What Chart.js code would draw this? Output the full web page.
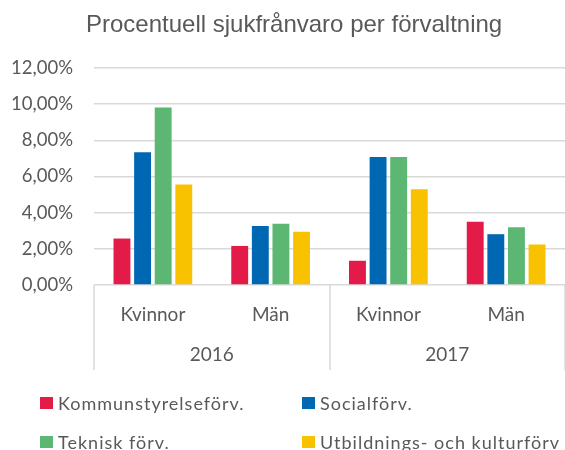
<!DOCTYPE html>
<html>
<head>
<meta charset="utf-8">
<script src="https://cdn.jsdelivr.net/npm/chart.js@4.4.0/dist/chart.umd.min.js"></script>
<style>
  body { margin: 0; background: #fff; }
  #wrap { position: relative; width: 565px; height: 450px; overflow: hidden; }
  #title { position: absolute; left: 86px; top: 10px; font: 24px "Liberation Sans", Arial, sans-serif; line-height: 27px; color: #595959; white-space: nowrap; }
  #legend { position: absolute; left: 0; top: 0; width: 565px; height: 450px; pointer-events: none; }
  .item { position: absolute; font: 18px Lato, sans-serif; line-height: 21px; letter-spacing: 1px; color: #595959; white-space: nowrap; padding-left: 18px; }
  .item span.box { position: absolute; left: 0; top: 4px; width: 13px; height: 12px; }
</style>
</head>
<body>
<div id="wrap">
  <canvas id="myChart" width="565" height="450"></canvas>
  <div id="title">Procentuell sjukfrånvaro per förvaltning</div>
  <div id="legend"></div>
</div>
<script>
const groupLabels = ['Kvinnor', 'Män', 'Kvinnor', 'Män']
const years = ['2016', '2017']
const seriesNames = ['Kommunstyrelseförv.', 'Socialförv.', 'Teknisk förv.', 'Utbildnings- och kulturförv']
const seriesColors = ['#E31B48', '#0068B2', '#5CB773', '#F9C200']
const kommunstyrelse = [2.57, 2.16, 1.34, 3.50]
const social = [7.34, 3.26, 7.08, 2.81]
const teknisk = [9.81, 3.39, 7.08, 3.19]
const utbildning = [5.56, 2.94, 5.30, 2.24]

const seriesValues = [kommunstyrelse, social, teknisk, utbildning]
const textColor = '#595959'

// year row under the category labels, with separators
const yearAxis = {
    id: 'yearAxis',
    afterDraw(chart) {
        const ctx = chart.ctx
        const area = chart.chartArea
        const perYear = groupLabels.length / years.length
        const catW = (area.right - area.left) / groupLabels.length
        ctx.save()
        ctx.strokeStyle = '#d9d9d9'
        ctx.lineWidth = 1.5
        for (let i = 0; i <= years.length; i++) {
            const x = Math.round(area.left + i * perYear * catW)
            ctx.beginPath()
            ctx.moveTo(x, area.bottom)
            ctx.lineTo(x, area.bottom + 85)
            ctx.stroke()
        }
        ctx.fillStyle = textColor
        ctx.font = '19px Lato'
        ctx.textAlign = 'center'
        ctx.textBaseline = 'middle'
        years.forEach((y, i) => {
            const cx = area.left + (i + 0.5) * perYear * catW
            ctx.fillText(y, cx, area.bottom + 70)
        })
        ctx.restore()
    }
}

const ctx = document.getElementById('myChart').getContext('2d')
const myChart = new Chart(ctx, {
    type: 'bar',
    data: {
        labels: groupLabels,
        datasets: seriesNames.map((name, i) => ({
            label: name,
            data: seriesValues[i],
            backgroundColor: seriesColors[i],
            categoryPercentage: 0.7,
            barPercentage: 0.82
        }))
    },
    options: {
        responsive: false,
        animation: false,
        layout: { padding: { top: 68, bottom: 80, left: 0, right: -3 } },
        plugins: {
            legend: { display: false },
            title: { display: false },
            tooltip: { enabled: false }
        },
        scales: {
            y: {
                min: 0,
                max: 12,
                ticks: {
                    stepSize: 2,
                    padding: 21,
                    color: textColor,
                    font: { family: 'Lato', size: 18.5 },
                    callback: v => v.toFixed(2).replace('.', ',') + '%'
                },
                grid: { color: '#d9d9d9', lineWidth: 1.5, drawTicks: false },
                border: { display: false },
                afterFit(scale) { scale.width = 94 }
            },
            x: {
                ticks: {
                    padding: 10,
                    color: textColor,
                    font: { family: 'Lato', size: 19 }
                },
                grid: { display: false },
                border: { display: false },
                afterFit(scale) { scale.height = 85 }
            }
        }
    },
    plugins: [yearAxis]
})

// legend in two columns
const legend = document.getElementById('legend')
const legendPos = [[40, 393], [302, 393], [40, 432], [302, 432]]
seriesNames.forEach((name, i) => {
    const el = document.createElement('div')
    el.className = 'item'
    el.style.left = legendPos[i][0] + 'px'
    el.style.top = legendPos[i][1] + 'px'
    el.innerHTML = '<span class="box" style="background:' + seriesColors[i] + '"></span>' + name
    legend.appendChild(el)
})
</script>
</body>
</html>
